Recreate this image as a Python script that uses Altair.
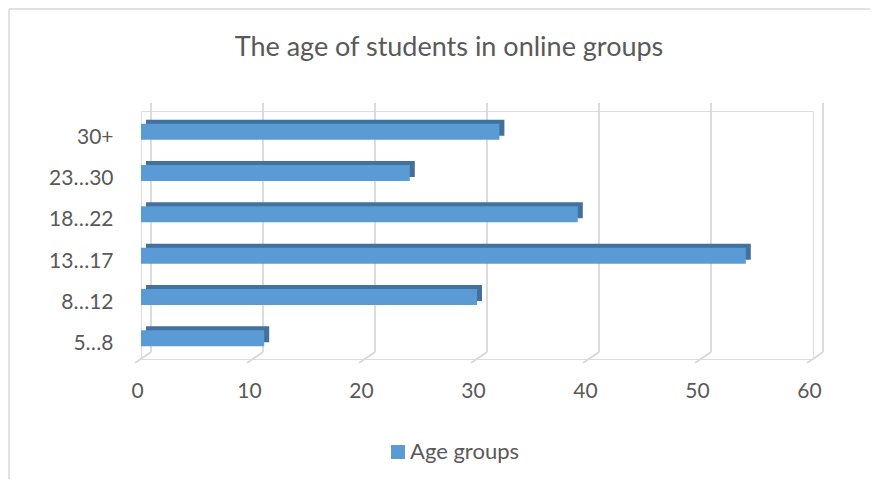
import altair as alt
import pandas as pd

# ---- data ----
categories = ["30+", "23…30", "18…22", "13…17", "8…12", "5…8"]
values = [32, 24, 39, 54, 30, 11]
tick_values = [0, 10, 20, 30, 40, 50, 60]
series_name = "Age groups"
title_text = "The age of students in online groups"

bars_df = pd.DataFrame({"group": categories, "students": values, "series": [series_name] * len(categories)})
grid_df = pd.DataFrame({"tick": tick_values})
title_df = pd.DataFrame({"t": [title_text]})

FONT = "Lato"
TXT = "#595959"
GRID = "#D9D9D9"
FRONT = "#5B9BD5"
DARK = "#41719C"

W, H = 672, 248

xscale = alt.Scale(domain=[0, 60], nice=False, zero=True)
yscale = alt.Scale(domain=categories, paddingInner=0, paddingOuter=0)

xaxis = alt.Axis(values=tick_values, grid=False, domain=False, ticks=False, title=None,
                 labelFontSize=21, labelFont=FONT, labelColor=TXT, labelPadding=21,
                 labelOffset=-4, labelFlush=False, labelOverlap=False, format="d")
yaxis = alt.Axis(grid=False, domain=False, ticks=False, title=None,
                 labelFontSize=21, labelFont=FONT, labelColor=TXT, labelPadding=28,
                 labelOffset=6)

grid_back = alt.Chart(grid_df).mark_rule(color=GRID, strokeWidth=1.8, xOffset=10).encode(
    x=alt.X("tick:Q", scale=xscale, axis=xaxis),
    y=alt.value(-8), y2=alt.value(241))

grid_floor = alt.Chart(grid_df).mark_rule(color=GRID, strokeWidth=1.8, xOffset=10, x2Offset=-6).encode(
    x=alt.X("tick:Q", scale=xscale, axis=xaxis), x2="tick:Q",
    y=alt.value(241), y2=alt.value(252))

bar_depth = alt.Chart(bars_df).mark_bar(size=16, color=DARK, xOffset=5, yOffset=-4).encode(
    x=alt.X("students:Q", scale=xscale, axis=xaxis),
    y=alt.Y("group:N", scale=yscale, sort=categories, axis=yaxis))

bar_front = alt.Chart(bars_df).mark_bar(size=16).encode(
    x=alt.X("students:Q", scale=xscale, axis=xaxis),
    y=alt.Y("group:N", scale=yscale, sort=categories, axis=yaxis),
    color=alt.Color("series:N", scale=alt.Scale(range=[FRONT]),
                    legend=alt.Legend(orient="none", legendX=246, legendY=330, title=None,
                                      symbolType="square", symbolSize=196, symbolStrokeWidth=0,
                                      labelFontSize=22, labelFont=FONT, labelColor=TXT,
                                      padding=0, labelOffset=1)))

title = alt.Chart(title_df).mark_text(fontSize=27, font=FONT, color=TXT,
                                      align="center", baseline="middle").encode(
    text="t:N", x=alt.value(308), y=alt.value(-63))

border_top = alt.Chart(title_df).mark_rule(color=GRID, strokeWidth=1.5).encode(
    x=alt.value(-132), x2=alt.value(740), y=alt.value(-102))
border_left = alt.Chart(title_df).mark_rule(color=GRID, strokeWidth=1.5).encode(
    x=alt.value(-132), y=alt.value(-102), y2=alt.value(400))

chart = alt.layer(border_top, border_left, grid_back, grid_floor, bar_depth, bar_front, title).properties(
    width=W, height=H,
    autosize=alt.AutoSizeParams(type="none"),
    padding={"left": 133, "top": 103, "right": 57, "bottom": 120},
).configure_view(stroke=None).configure(background="white")

chart.save("out.html", embed_options={"renderer": "svg", "actions": False})
